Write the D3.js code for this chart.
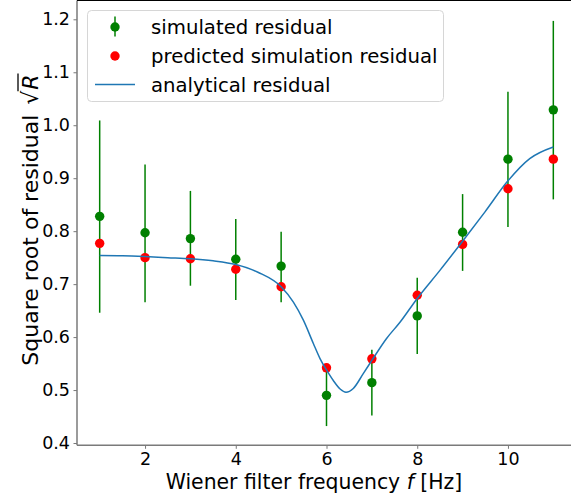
<!DOCTYPE html>
<html><head><meta charset="utf-8">
<script src="https://cdn.jsdelivr.net/npm/d3@7"></script>
<style>body{margin:0;background:#fff}svg{display:block;font-family:"DejaVu Sans",sans-serif}</style>
</head><body><svg id="c" width="571" height="497"></svg>
<script>
const freqs = [1,2,3,4,5,6,7,8,9,10,11];
const simulated = [0.828,0.797,0.786,0.747,0.734,0.490,0.514,0.640,0.798,0.936,1.029];
const simErrLow = [0.646,0.666,0.697,0.670,0.666,0.432,0.452,0.568,0.725,0.808,0.860];
const simErrHigh = [1.009,0.926,0.876,0.823,0.799,0.548,0.576,0.712,0.870,1.063,1.197];
const predicted = [0.777,0.750,0.748,0.728,0.695,0.542,0.559,0.679,0.775,0.880,0.936];
const analyticF = [1,1.5,2,2.5,3,3.5,4,4.5,5,5.27,5.49,5.71,5.86,6,6.15,6.3,6.43,6.59,6.81,7,7.32,7.62,8,8.5,9,9.49,10,10.48,11];
const analyticR = [0.754,0.7535,0.752,0.750,0.748,0.744,0.737,0.722,0.695,0.666,0.632,0.588,0.559,0.538,0.518,0.502,0.496,0.503,0.531,0.556,0.597,0.628,0.673,0.726,0.781,0.836,0.895,0.937,0.959];
const xTicks = [2,4,6,8,10];
const yTicks = [0.4,0.5,0.6,0.7,0.8,0.9,1.0,1.1,1.2];

const svg = d3.select("#c");
const L = 77, R = 576, T = 0.5, B = 445.3;
const x = d3.scaleLinear().domain([0.5, 11.5]).range([L, R]);
const y = d3.scaleLinear().domain([0.3957, 1.2355]).range([B, T]);

// axes
const gx = svg.append("g").attr("transform", `translate(0,${B})`)
  .call(d3.axisBottom(x).tickValues(xTicks).tickSize(3.5).tickPadding(3.5).tickFormat(d3.format("d")));
const gy = svg.append("g").attr("transform", `translate(${L},0)`)
  .call(d3.axisLeft(y).tickValues(yTicks).tickSize(3.5).tickPadding(3.5).tickFormat(d3.format(".1f")));
[gx, gy].forEach(g => {
  g.select(".domain").remove();
  g.selectAll(".tick line").attr("stroke", "#555").attr("stroke-width", 0.8);
  g.selectAll(".tick text").attr("font-size", 17.5).attr("fill", "#000").attr("font-family", "DejaVu Sans");
});
// spines
svg.append("line").attr("x1", L).attr("x2", L).attr("y1", T).attr("y2", B).attr("stroke", "#7a7a7a").attr("stroke-width", 1.5);
svg.append("line").attr("x1", L).attr("x2", R).attr("y1", B).attr("y2", B).attr("stroke", "#7a7a7a").attr("stroke-width", 1.5);
svg.append("line").attr("x1", L).attr("x2", R).attr("y1", T).attr("y2", T).attr("stroke", "#000").attr("stroke-width", 1.2);

// error bars + simulated
svg.append("g").selectAll("line").data(freqs).join("line")
  .attr("x1", d => x(d)).attr("x2", d => x(d))
  .attr("y1", (d,i) => y(simErrLow[i])).attr("y2", (d,i) => y(simErrHigh[i]))
  .attr("stroke", "green").attr("stroke-width", 1.5);
svg.append("g").selectAll("circle").data(freqs).join("circle")
  .attr("cx", d => x(d)).attr("cy", (d,i) => y(simulated[i])).attr("r", 4.7).attr("fill", "green");
svg.append("g").selectAll("circle").data(freqs).join("circle")
  .attr("cx", d => x(d)).attr("cy", (d,i) => y(predicted[i])).attr("r", 4.7).attr("fill", "red");
// analytic line
svg.append("path").datum(analyticF.map((f,i) => [f, analyticR[i]]))
  .attr("d", d3.line().x(d => x(d[0])).y(d => y(d[1])).curve(d3.curveMonotoneX))
  .attr("fill", "none").attr("stroke", "#1f77b4").attr("stroke-width", 1.5);

// legend
const lg = svg.append("g");
lg.append("rect").attr("x", 87.5).attr("y", 10.5).attr("width", 356).attr("height", 91).attr("rx", 4)
  .attr("fill", "#fff").attr("fill-opacity", 0.8).attr("stroke", "#d6d6d6").attr("stroke-width", 1);
const rows = [27, 56, 84.5];
const labels = ["simulated residual", "predicted simulation residual", "analytical residual"];
lg.append("line").attr("x1", 115).attr("x2", 115).attr("y1", rows[0]-10.5).attr("y2", rows[0]+9.5).attr("stroke", "green").attr("stroke-width", 1.5);
lg.append("circle").attr("cx", 115).attr("cy", rows[0]).attr("r", 4.7).attr("fill", "green");
lg.append("circle").attr("cx", 115).attr("cy", rows[1]).attr("r", 4.7).attr("fill", "red");
lg.append("line").attr("x1", 95).attr("x2", 135).attr("y1", rows[2]).attr("y2", rows[2]).attr("stroke", "#1f77b4").attr("stroke-width", 1.5);
lg.selectAll("text").data(labels).join("text")
  .attr("x", 151).attr("y", (d,i) => rows[i] + 7).attr("font-size", 19.7).attr("fill", "#000").text(d => d);

// x label
const xl = svg.append("text").attr("x", 314).attr("y", 489).attr("text-anchor", "middle").attr("font-size", 20.4).attr("fill", "#000");
xl.append("tspan").text("Wiener filter frequency ");
xl.append("tspan").attr("font-style", "italic").text("f");
xl.append("tspan").text(" [Hz]");

// y label
const yg = svg.append("g").attr("transform", "translate(38,220) rotate(-90)");
const yt = yg.append("text").attr("text-anchor", "middle").attr("font-size", 22).attr("fill", "#000");
yt.append("tspan").text("Square root of residual ");
yt.append("tspan").attr("dx", 3).text("\u221A");
const rs = yt.append("tspan").attr("dx", 1).attr("font-style", "italic").text("R");
const tw = yt.node().getComputedTextLength() + 4;
const rw = rs.node().getComputedTextLength();
yg.append("line").attr("x1", tw/2 - rw - 1.5).attr("x2", tw/2 + 1).attr("y1", -20).attr("y2", -20).attr("stroke", "#000").attr("stroke-width", 1.3);
</script></body></html>
